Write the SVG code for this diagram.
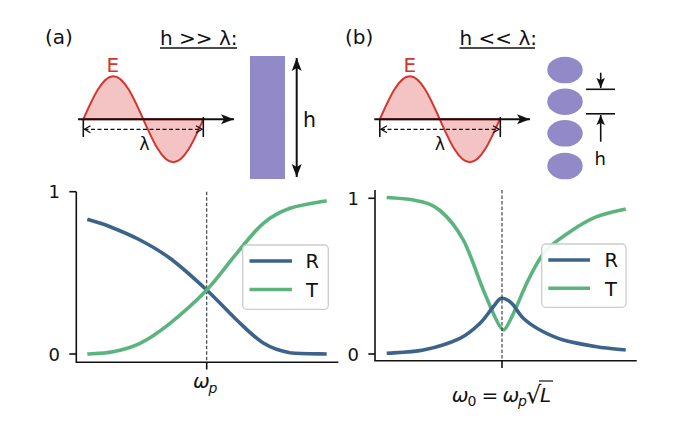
<svg xmlns="http://www.w3.org/2000/svg" width="689" height="435" viewBox="0 0 689 435">
<style>
text{font-family:"DejaVu Sans","Liberation Sans",sans-serif;fill:#111}
.lbl{font-size:20px}
.tick{font-size:18px}
.leg{font-size:19.5px}
.math{font-style:italic;font-size:20px}
.wave{fill:#f4c4c4;stroke:#d6352d;stroke-width:2}
.red{fill:#d6352d}
.ax{stroke:#111;stroke-width:1.6;fill:none}
.blk{stroke:#111;stroke-width:2;fill:none}
.dash{stroke:#111;stroke-width:1.3;stroke-dasharray:4,2.5;fill:none}
.vd{stroke:#333;stroke-width:1.1;stroke-dasharray:3.5,2;fill:none}
.R{stroke:#3c6389;stroke-width:3.6;fill:none}
.T{stroke:#5bb47e;stroke-width:3.6;fill:none}
.legbox{fill:#fff;fill-opacity:0.9;stroke:#cccccc;stroke-width:1.3}
.purple{fill:#928ac8}
</style>
<defs>
<path id="wave" d="M0,0 C9.78,-22.03 19.14,-43 30,-43 C40.86,-43 50.22,-22.03 60,0 C69.78,22.03 79.14,43 90,43 C100.86,43 110.22,22.03 120,0 Z"/>
<marker id="big" markerUnits="userSpaceOnUse" markerWidth="20" markerHeight="14" viewBox="-15 -7 17 14" refX="0" refY="0" orient="auto-start-reverse" overflow="visible">
<path d="M0,0 L-13,-5 L-10,0 L-13,5 Z" fill="#111"/>
</marker>
<marker id="sm" markerUnits="userSpaceOnUse" markerWidth="14" markerHeight="12" viewBox="-12 -6 13 12" refX="0" refY="0" orient="auto-start-reverse" overflow="visible">
<path d="M0,0 L-10,-4.2 L-8,0 L-10,4.2 Z" fill="#111"/>
</marker>
<marker id="open" markerUnits="userSpaceOnUse" markerWidth="10" markerHeight="10" viewBox="-8 -5 9 10" refX="0" refY="0" orient="auto-start-reverse" overflow="visible">
<path d="M-6,-3.5 L0,0 L-6,3.5" fill="none" stroke="#111" stroke-width="1.3"/>
</marker>
</defs>

<g id="panel-a-top">
<text class="lbl" x="45" y="44">(a)</text>
<text class="lbl" x="160" y="45">h &gt;&gt; λ:</text>
<line class="ax" x1="160" y1="48" x2="237" y2="48"/>
<use href="#wave" class="wave" transform="translate(83.3,119.3)"/>
<text class="lbl red" x="106.5" y="72">E</text>
<line class="blk" x1="78" y1="119.3" x2="234" y2="119.3" marker-end="url(#big)"/>
<line class="ax" x1="83.3" y1="119.3" x2="83.3" y2="137"/>
<line class="ax" x1="203.3" y1="117" x2="203.3" y2="137"/>
<line class="dash" x1="84.5" y1="129.3" x2="202" y2="129.3" marker-start="url(#open)" marker-end="url(#open)"/>
<text x="144.5" y="150" text-anchor="middle" style="font-size:17.5px">λ</text>
<rect class="purple" x="250" y="56" width="35" height="123"/>
<line class="blk" x1="296.7" y1="58" x2="296.7" y2="177" marker-start="url(#big)" marker-end="url(#big)"/>
<text x="303" y="127" style="font-size:20.5px">h</text>
</g>

<g id="panel-b-top">
<text class="lbl" x="345" y="44">(b)</text>
<text class="lbl" x="459.5" y="45">h &lt;&lt; λ:</text>
<line class="ax" x1="459.5" y1="48" x2="535" y2="48"/>
<use href="#wave" class="wave" transform="translate(379.8,119.3)"/>
<text class="lbl red" x="403.5" y="72">E</text>
<line class="blk" x1="374.3" y1="119.3" x2="530" y2="119.3" marker-end="url(#big)"/>
<line class="ax" x1="379.8" y1="119.3" x2="379.8" y2="137"/>
<line class="ax" x1="500.3" y1="117" x2="500.3" y2="137"/>
<line class="dash" x1="381" y1="129.3" x2="499" y2="129.3" marker-start="url(#open)" marker-end="url(#open)"/>
<text x="440" y="150" text-anchor="middle" style="font-size:17.5px">λ</text>
<ellipse class="purple" cx="565" cy="70" rx="17.7" ry="13.3"/>
<ellipse class="purple" cx="565" cy="101.7" rx="17.7" ry="13.3"/>
<ellipse class="purple" cx="565" cy="133.3" rx="17.7" ry="13.3"/>
<ellipse class="purple" cx="565" cy="166" rx="17.7" ry="13.3"/>
<line class="ax" x1="586" y1="89.3" x2="615" y2="89.3"/>
<line class="ax" x1="586" y1="113.8" x2="615" y2="113.8"/>
<line class="ax" x1="600.7" y1="72.7" x2="600.7" y2="88" marker-end="url(#sm)"/>
<line class="ax" x1="600.7" y1="141.7" x2="600.7" y2="115" marker-end="url(#sm)"/>
<text x="594.5" y="165" style="font-size:18px">h</text>
</g>

<g id="plot-a">
<line class="vd" x1="206.7" y1="191.7" x2="206.7" y2="362.3"/>
<path class="R" d="M87.3,219.3 C91.08,220.53 101.22,223.25 110,226.7 C118.78,230.15 130,234.73 140,240 C150,245.27 158.88,249.97 170,258.3 C181.12,266.63 195.58,279.72 206.7,290 C217.82,300.28 227.27,311.17 236.7,320 C246.13,328.83 254.42,337.55 263.3,343 C272.18,348.45 279.43,350.87 290,352.7 C300.57,353.9 320.58,353.78 326.7,354"/>
<path class="T" d="M87.3,354 C91.58,353.62 104.22,353.48 113,351.7 C121.78,349.92 130.5,348.03 140,343.3 C149.5,338.57 158.88,332.18 170,323.3 C181.12,314.42 195.58,301.67 206.7,290 C217.82,278.33 227.27,264.42 236.7,253.3 C246.13,242.18 254.42,230.8 263.3,223.3 C272.18,215.8 279.43,212.07 290,208.3 C300.57,204.53 320.58,201.97 326.7,200.7"/>
<polyline class="ax" points="76.3,191.7 76.3,362.3 338.3,362.3"/>
<line class="ax" x1="69.3" y1="191.7" x2="76.3" y2="191.7"/>
<line class="ax" x1="69.3" y1="354" x2="76.3" y2="354"/>
<line class="ax" x1="206.7" y1="362.3" x2="206.7" y2="369.5"/>
<text class="tick" x="60" y="198.2" text-anchor="end">1</text>
<text class="tick" x="60" y="360.5" text-anchor="end">0</text>
<text class="math" x="193" y="388">ω<tspan x="208.5" y="393" style="font-size:14px">p</tspan></text>
<g id="legend-a">
<rect class="legbox" x="242.7" y="245" width="85.6" height="64.3" rx="4"/>
<line class="R" x1="249.5" y1="261" x2="292" y2="261"/>
<line class="T" x1="249.5" y1="289.5" x2="292" y2="289.5"/>
<text class="leg" x="305.5" y="268">R</text>
<text class="leg" x="306" y="296.5">T</text>
</g>
</g>

<g id="plot-b">
<path class="T" d="M386.7,197.5 C391.7,197.9 407.82,198.5 416.7,200.7 C425.58,202.9 432.23,203.95 440,210.5 C447.77,217.05 456.08,226.75 463.3,240 C470.52,253.25 477.47,276.12 483.3,290 C489.13,303.88 499.5,330 503.5,330 C507.5,330 520.87,295.52 526.7,283.3 C532.53,271.08 537.78,260.3 545,251.7 C552.22,243.1 561.38,237.53 570,231.7 C578.62,225.87 587.42,220.48 596.7,216.7 C605.98,212.92 620.87,210.28 625.7,209"/>
<path class="R" d="M386.7,353.3 C392.8,352.75 411.08,352.5 423.3,350 C435.52,347.5 450.55,342.75 460,338.3 C469.45,333.85 474.45,328.57 480,323.3 C485.55,318.03 489.63,310.87 493.3,306.7 C496.97,302.53 498.5,298.3 502,298.3 C505.5,298.3 508.15,299.97 511.7,303.3 C515.25,306.63 518.58,313.85 523.3,318.3 C528.02,322.75 533.33,326.38 540,330 C546.67,333.62 553.85,337.22 563.3,340 C572.75,342.78 586.3,345.03 596.7,346.7 C607.1,348.37 620.87,349.45 625.7,350"/>
<line class="vd" x1="502" y1="190" x2="502" y2="360.7"/>
<polyline class="ax" points="375,190 375,360.7 636.7,360.7"/>
<line class="ax" x1="368.3" y1="198.3" x2="375" y2="198.3"/>
<line class="ax" x1="368.3" y1="354" x2="375" y2="354"/>
<line class="ax" x1="502" y1="360.7" x2="502" y2="368"/>
<text class="tick" x="359" y="204.8" text-anchor="end">1</text>
<text class="tick" x="359" y="360.5" text-anchor="end">0</text>
<text class="math" x="451.7" y="401.5">ω<tspan x="467.5" y="406" style="font-size:14px;font-style:normal">0</tspan><tspan x="481.5" y="401.5" style="font-style:normal">=</tspan><tspan x="502.5" y="401.5">ω</tspan><tspan x="518" y="406" style="font-size:14px">p</tspan><tspan x="526" y="402.5" style="font-style:normal;font-size:24px">√</tspan><tspan x="540" y="401.5">L</tspan></text>
<line stroke="#111" stroke-width="1.2" x1="539" y1="381" x2="553" y2="381"/>
<g id="legend-b">
<rect class="legbox" x="541.7" y="244" width="84.3" height="63.3" rx="4"/>
<line class="R" x1="548.3" y1="260" x2="590" y2="260"/>
<line class="T" x1="548.3" y1="288.3" x2="590" y2="288.3"/>
<text class="leg" x="604.5" y="267">R</text>
<text class="leg" x="605" y="295.5">T</text>
</g>
</g>
</svg>
